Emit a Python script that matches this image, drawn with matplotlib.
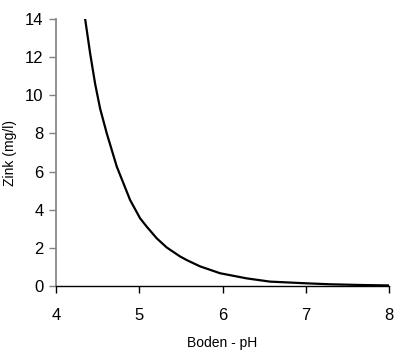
import matplotlib
matplotlib.use("Agg")
import matplotlib.pyplot as plt

ph = [4.35, 4.41, 4.47, 4.53, 4.61, 4.73, 4.89, 5.01, 5.09, 5.21, 5.33, 5.49, 5.57, 5.73,
      5.97, 6.29, 6.57, 7.01, 7.29, 7.69, 8.0]
zink = [14.0, 12.2, 10.6, 9.3, 8.0, 6.26, 4.51, 3.55, 3.11, 2.5, 2.02, 1.55, 1.36, 1.03,
        0.67, 0.40, 0.23, 0.14, 0.09, 0.05, 0.03]
xticks = [4, 5, 6, 7, 8]
yticks = [0, 2, 4, 6, 8, 10, 12, 14]

plt.rcParams['font.family'] = ['Liberation Sans', 'DejaVu Sans']
fig = plt.figure(figsize=(4.04, 3.6), dpi=100)
ax = fig.add_axes([56/404, 74/360, 333/404, 267/360])
ax.plot(ph, zink, color='black', lw=1.6, solid_joinstyle='round')
ax.set_xlim(4, 8)
ax.set_ylim(0, 14)
ax.set_xticks(xticks)
ax.set_yticks(yticks)
for s in ['top', 'right']:
    ax.spines[s].set_visible(False)
ax.spines['left'].set_color('#808080')
ax.spines['left'].set_linewidth(1.2)
ax.spines['bottom'].set_color('black')
ax.spines['bottom'].set_linewidth(1.0)
ax.tick_params(axis='y', colors='#808080', labelcolor='black', length=5, width=1, pad=4, labelsize=12)
ax.tick_params(axis='x', colors='black', length=5, width=1, pad=11, labelsize=12)
ax.set_xlabel('Boden - pH', fontsize=10, labelpad=9)
ax.set_ylabel('Zink (mg/l)', fontsize=10, labelpad=6)
fig.savefig('out.png', dpi=100)
